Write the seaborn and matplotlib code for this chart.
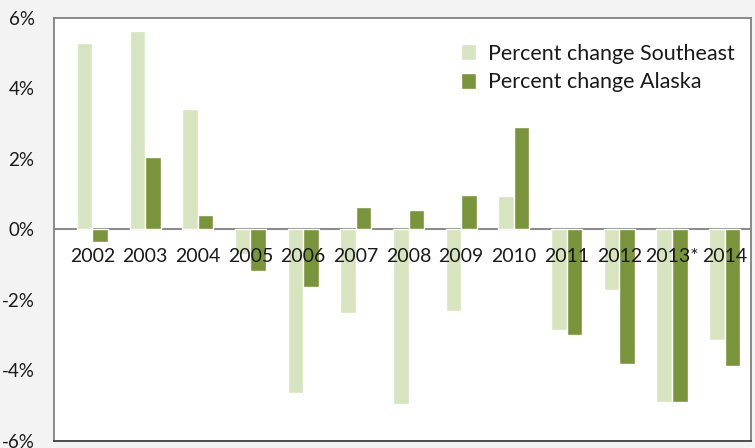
import matplotlib
matplotlib.use("Agg")
import matplotlib.pyplot as plt
import seaborn as sns
import pandas as pd

years = ["2002", "2003", "2004", "2005", "2006", "2007", "2008", "2009",
         "2010", "2011", "2012", "2013*", "2014"]
southeast = [5.29, 5.63, 3.42, -0.70, -4.63, -2.36, -4.94, -2.30,
             0.95, -2.84, -1.71, -4.88, -3.13]
alaska = [-0.35, 2.06, 0.41, -1.17, -1.62, 0.64, 0.55, 0.98,
          2.91, -2.98, -3.81, -4.88, -3.86]
series_names = ["Percent change Southeast", "Percent change Alaska"]
yticks = [-6, -4, -2, 0, 2, 4, 6]

df = pd.DataFrame({
    "year": years * 2,
    "value": southeast + alaska,
    "series": [series_names[0]] * len(years) + [series_names[1]] * len(years),
})

sns.set_theme(style="white")
plt.rcParams["font.family"] = ["Lato", "DejaVu Sans"]

bg = "#f2f3f2"
fig = plt.figure(figsize=(7.55, 4.48), dpi=100, facecolor=bg)
ax = fig.add_axes([0.0715, 0.0156, 0.9947 - 0.0715, 0.96 - 0.0156])
ax.set_facecolor("white")

sns.barplot(data=df, x="year", y="value", hue="series", order=years,
            hue_order=series_names, palette=["#d8e4bf", "#7a943c"],
            width=0.59, saturation=1, ax=ax, gap=0)

ax.set_ylim(-6, 6)
ax.set_xlim(-0.73, 12.5)
ax.set_yticks(yticks)
ax.set_yticklabels([f"{t}%" for t in yticks], fontsize=13.5, color="#1a1a1a")
ax.tick_params(axis="y", length=0, pad=14)
ax.set_xlabel("")
ax.set_ylabel("")
ax.set_xticks([])

ax.axhline(0, color="#8c8c8c", lw=1.5, zorder=0.5)

sec = ax.secondary_xaxis(0.5)
sec.set_zorder(10)
sec.xaxis.set_ticks_position("bottom")
sec.set_xticks(range(len(years)))
sec.set_xticklabels(years, fontsize=14, color="#1a1a1a")
sec.tick_params(length=0, pad=13, labelbottom=True, labeltop=False)
for s in sec.spines.values():
    s.set_visible(False)

for side in ["left", "top", "right"]:
    ax.spines[side].set_color("#808080")
    ax.spines[side].set_linewidth(1.3)
ax.spines["bottom"].set_color("#404040")
ax.spines["bottom"].set_linewidth(1.3)

leg = ax.legend(frameon=False, loc="upper right", fontsize=15.5,
                bbox_to_anchor=(1.004, 0.985), handlelength=0.7,
                handleheight=0.75, handletextpad=0.55, labelspacing=0.4)
for t in leg.get_texts():
    t.set_color("#1a1a1a")

fig.savefig("out.png", dpi=100, facecolor=bg)
